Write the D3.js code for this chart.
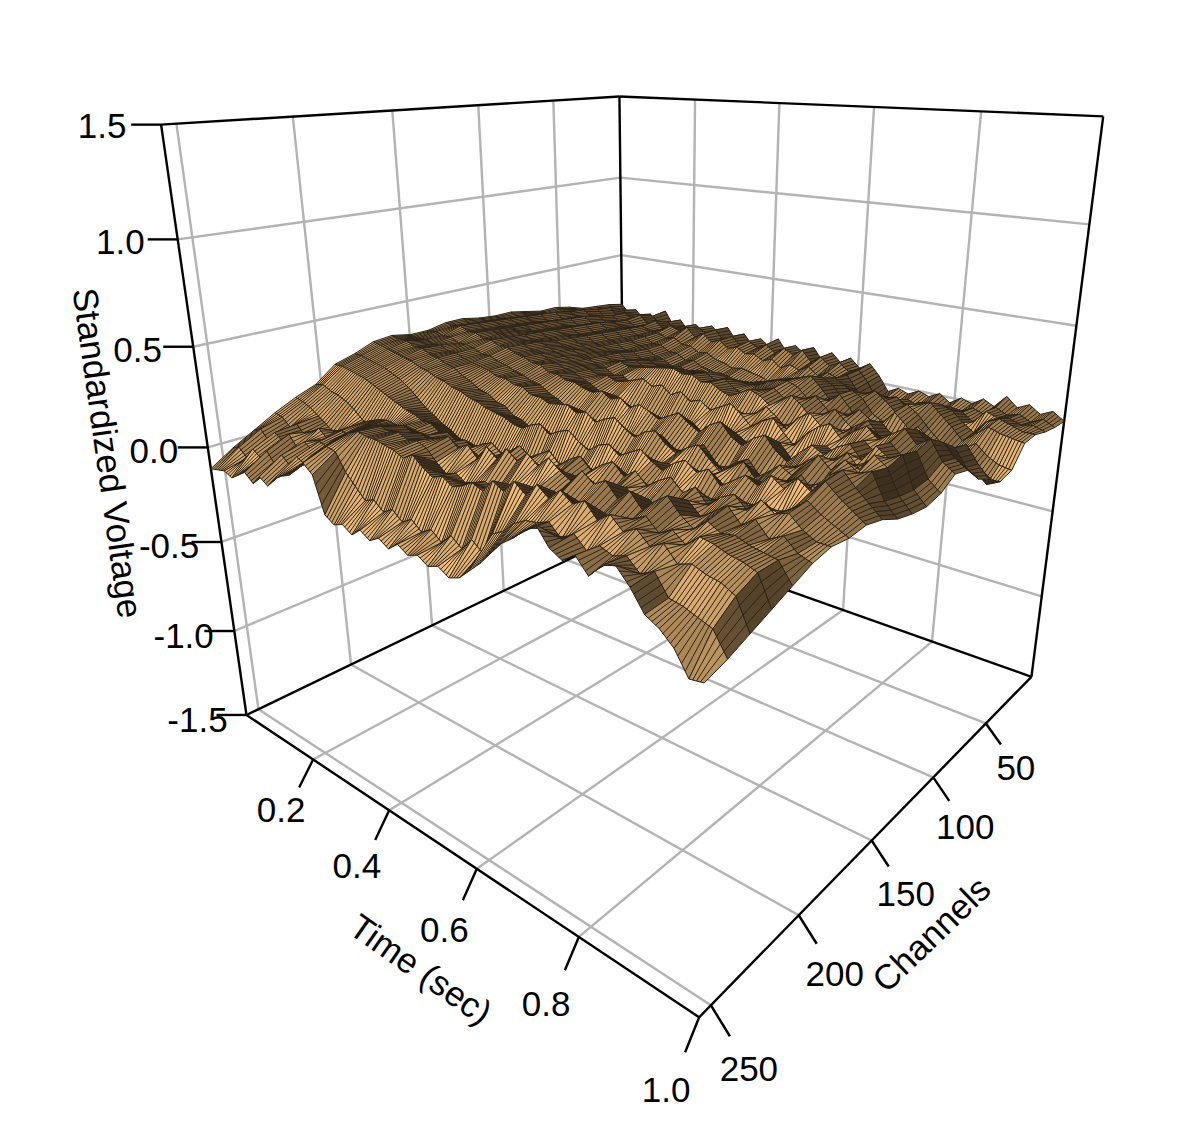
<!DOCTYPE html>
<html lang="en">
<head>
<meta charset="UTF-8">
<title>Standardized voltage surface</title>
<script src="https://cdnjs.cloudflare.com/ajax/libs/d3/7.8.5/d3.min.js"></script>
<style>
  body { margin: 0; background: #fff; }
  text { font-family: "Liberation Sans", Arial, sans-serif; font-size: 35px; fill: #000; }
</style>
</head>
<body>
<svg id="chart" width="1185" height="1147"></svg>
<script>
// tick values
const timeTicks = [0.2, 0.4, 0.6, 0.8, 1.0];
const channelTicks = [50, 100, 150, 200, 250];
const voltageTicks = [-1.5, -1.0, -0.5, 0.0, 0.5, 1.0, 1.5];

// sampled axes of the surface
const channelsMax = 256;
const timeSteps = 48;
const channelSteps = 24;

// voltage, in hundredths. one row per channel step
// (back right edge first), one value per time step
const voltage = [
[17,12,15,10,14,9,18,10,14,8,13,9,14,10,15,8,13,7,12,8,14,7,12,8,13,6,12,7,11,6,10,4,-4,-1,-3,0,-2,1,-3,1,-1,3,0,7,2,5,1,4,0],
[19,14,17,12,16,11,17,12,15,10,14,11,15,12,16,10,14,9,13,10,13,9,13,10,14,8,12,8,11,7,9,3,-6,-3,-5,-2,-4,-1,-5,-1,-2,1,-1,4,1,3,0,3,0],
[20,18,21,15,19,16,20,15,18,14,17,15,18,13,16,12,14,10,12,9,10,7,9,5,8,6,9,5,8,6,9,2,-5,-2,-1,1,-3,2,-2,3,0,2,-2,5,3,4,2,3,1],
[21,19,22,18,20,17,19,16,17,15,15,13,14,11,11,8,9,6,5,3,4,3,2,0,2,4,5,3,6,8,10,7,2,-1,1,5,7,2,-1,3,8,6,1,-3,4,7,5,3,3],
[24,22,24,21,22,19,20,18,18,15,15,12,12,9,9,6,7,4,3,1,2,0,-1,-3,-1,0,2,5,8,11,13,10,4,6,9,12,8,3,5,10,12,7,2,-4,1,6,4,3,2],
[26,24,25,23,24,21,22,19,19,16,15,13,12,9,8,5,6,3,2,0,1,3,5,4,6,8,9,11,13,15,17,12,6,10,14,11,4,1,7,13,9,3,-2,-7,-3,1,-4,-7,-8],
[26,25,27,24,25,22,23,20,20,17,16,13,13,10,10,8,9,8,7,9,11,10,12,11,10,9,10,13,15,16,14,9,5,10,15,9,1,-2,5,12,7,-1,-6,-11,-7,-3,-8,-13,-10],
[28,27,28,25,26,24,24,21,21,18,17,15,15,12,13,10,11,10,13,12,14,13,15,12,14,10,8,10,13,15,11,8,13,16,11,5,9,14,10,3,-1,6,12,8,2,5,9,1,-5],
[30,28,29,27,27,25,25,23,22,20,18,17,16,14,15,13,14,15,16,17,18,16,17,14,15,12,10,13,16,14,10,14,18,14,8,12,16,11,7,12,15,10,6,10,13,9,11,3,-1],
[30,29,30,28,28,26,26,24,23,21,20,18,17,15,14,11,12,9,10,7,5,7,4,2,5,3,1,4,7,3,9,14,10,5,12,16,11,4,10,15,19,13,9,16,20,14,17,11,7],
[31,30,31,29,29,28,27,25,25,23,21,20,18,17,16,14,15,13,14,16,18,15,17,13,16,12,14,10,13,16,12,7,11,14,8,3,10,15,18,12,17,21,16,20,24,18,22,13,9],
[33,31,32,30,30,29,28,27,26,24,23,21,20,18,17,15,13,10,8,10,7,4,6,2,4,1,3,6,2,-1,3,7,4,-2,3,8,2,-3,6,12,9,15,19,14,21,16,20,9,4],
[33,32,33,31,31,29,29,27,27,25,24,22,22,19,19,17,17,15,14,16,13,15,11,14,12,9,12,15,11,8,13,16,10,7,12,15,9,5,11,16,13,18,21,15,23,19,22,8,2],
[31,31,30,30,28,28,27,25,25,23,22,20,19,17,16,13,11,8,6,8,4,1,4,-1,3,0,5,7,3,0,5,8,2,-3,4,7,1,-4,3,9,14,10,17,22,16,24,20,9,3],
[31,30,30,29,29,27,27,25,24,23,22,20,20,18,18,15,15,13,14,15,12,14,10,13,15,11,8,12,14,9,6,10,13,8,3,7,11,5,9,14,11,17,23,18,24,20,22,11,5],
[33,32,32,30,30,28,27,25,24,21,19,16,15,12,11,7,6,3,1,-2,1,-4,-1,-5,-2,0,-3,1,4,0,3,6,2,-1,4,7,3,-1,6,10,7,13,18,12,21,25,19,14,9],
[32,31,30,29,28,27,25,24,22,21,19,18,16,15,13,12,11,9,8,11,13,9,12,14,10,7,11,13,9,12,15,11,8,13,16,12,15,9,13,17,14,20,16,22,18,24,19,15,11],
[28,28,27,26,25,23,21,18,14,10,7,4,2,-1,-2,-4,-3,-6,-4,-7,-5,-8,-3,-6,-2,-5,-1,-3,1,-2,3,6,1,-2,5,8,4,0,7,11,6,10,14,9,15,20,16,13,10],
[25,25,24,23,22,20,18,16,14,12,11,9,9,6,7,4,6,3,7,9,5,8,12,8,11,14,9,13,16,11,15,18,13,17,12,16,19,14,18,12,17,20,15,21,17,19,14,11,11],
[17,18,16,15,13,10,6,4,2,5,7,9,8,6,9,5,8,4,7,3,6,2,8,5,9,4,10,6,12,8,13,10,6,12,15,9,13,7,14,18,13,17,21,15,19,13,16,11,9],
[13,12,10,7,4,0,3,6,9,12,14,16,17,16,17,15,16,14,17,19,15,18,13,20,16,22,18,23,19,24,20,17,23,19,22,16,21,15,20,24,18,14,19,16,17,15,14,13,5],
[8,7,3,6,1,5,8,4,9,11,10,15,17,19,20,19,20,18,19,17,12,8,10,7,9,11,8,12,14,11,16,13,17,12,16,11,15,10,17,20,15,18,14,19,18,16,15,13,1],
[2,4,-1,5,2,7,1,6,3,9,8,13,16,19,21,20,20,19,18,16,19,15,12,14,11,13,16,14,20,17,23,19,25,21,26,22,25,19,23,18,21,16,19,13,15,13,12,9,-3],
[-4,-2,-6,0,-3,2,-4,3,-1,5,3,9,12,16,15,7,2,-3,-1,-5,-2,-6,-3,-7,-4,-8,-3,-7,-1,-5,5,8,13,16,17,19,14,18,13,17,15,17,12,15,7,6,4,2,-7],
[-11,-10,-9,-11,-8,-5,-9,-4,-7,-2,1,3,7,12,8,-9,-12,-10,-13,-9,-12,-9,-12,-8,-11,-9,-12,-10,-13,-11,-6,-1,5,11,15,20,24,17,14,18,12,18,20,14,6,3,-2,-11,-10]
];

const svg = d3.select("#chart");

// box scales, all on the unit cube
const tScale = d3.scaleLinear().domain([0, 1]).range([0, 1]);
const cScale = d3.scaleLinear().domain([0, channelsMax]).range([0, 1]);
const vScale = d3.scaleLinear().domain([-1.5, 1.5]).range([0, 1]);

// where the box sits on the page: [time, channel, voltage, px, py]
const boxAnchors = [
  [0, 256, -1.5, 247, 714], [1, 256, -1.5, 700, 1018], [1, 0, -1.5, 1030, 677],
  [0, 256, 1.5, 162, 125], [0, 0, 1.5, 619, 95], [0, 0, 1.5, 619, 95], [1, 0, 1.5, 1103, 118],
  [0.2, 256, -1.5, 311, 757], [0.4, 256, -1.5, 386, 808], [0.6, 256, -1.5, 476, 868], [0.8, 256, -1.5, 578, 937],
  [1, 50, -1.5, 985, 722], [1, 100, -1.5, 934, 777], [1, 150, -1.5, 873, 840], [1, 200, -1.5, 802, 915], [1, 250, -1.5, 711, 1008],
  [0, 256, 1.0, 178, 240], [0, 256, 0.5, 193, 347], [0, 256, 0, 208, 449], [0, 256, -0.5, 222, 543], [0, 256, -1.0, 235, 632],
  [0, 0, -1.5, 626, 535]
];

// least squares fit of the 3x4 camera matrix
function fitCamera(points) {
  const n = 11;
  const ata = d3.range(n).map(() => new Array(n + 1).fill(0));
  function addRow(row, rhs) {
    for (let i = 0; i < n; i++) {
      for (let j = 0; j < n; j++) ata[i][j] += row[i] * row[j];
      ata[i][n] += row[i] * rhs;
    }
  }
  points.forEach(([t, c, v, px, py]) => {
    const a = tScale(t), b = cScale(c), h = vScale(v);
    addRow([a, b, h, 1, 0, 0, 0, 0, -px * a, -px * b, -px * h], px);
    addRow([0, 0, 0, 0, a, b, h, 1, -py * a, -py * b, -py * h], py);
  });
  for (let i = 0; i < n; i++) {
    let best = i;
    for (let r = i + 1; r < n; r++) if (Math.abs(ata[r][i]) > Math.abs(ata[best][i])) best = r;
    [ata[i], ata[best]] = [ata[best], ata[i]];
    for (let r = 0; r < n; r++) {
      if (r === i) continue;
      const f = ata[r][i] / ata[i][i];
      for (let k = i; k <= n; k++) ata[r][k] -= f * ata[i][k];
    }
  }
  return ata.map((row, i) => row[n] / row[i]);
}
const cam = fitCamera(boxAnchors);

function project(t, c, v) {
  const a = tScale(t), b = cScale(c), h = vScale(v);
  const w = cam[8] * a + cam[9] * b + cam[10] * h + 1;
  return [
    (cam[0] * a + cam[1] * b + cam[2] * h + cam[3]) / w,
    (cam[4] * a + cam[5] * b + cam[6] * h + cam[7]) / w
  ];
}

function seg(g, p, q, color, width) {
  g.append("line").attr("x1", p[0]).attr("y1", p[1]).attr("x2", q[0]).attr("y2", q[1])
    .attr("stroke", color).attr("stroke-width", width);
}

const vMin = -1.5, vMax = 1.5;

// gray grid on the floor and the two back walls
const grid = svg.append("g");
const gray = "#b3b3b3";
channelTicks.forEach(c => {
  seg(grid, project(0, c, vMin), project(1, c, vMin), gray, 2.4);
  seg(grid, project(0, c, vMin), project(0, c, vMax), gray, 2.4);
});
timeTicks.filter(t => t < 1).forEach(t => {
  seg(grid, project(t, 0, vMin), project(t, channelsMax, vMin), gray, 2.4);
  seg(grid, project(t, 0, vMin), project(t, 0, vMax), gray, 2.4);
});
voltageTicks.slice(1, -1).forEach(v => {
  seg(grid, project(0, channelsMax, v), project(0, 0, v), gray, 2.4);
  seg(grid, project(0, 0, v), project(1, 0, v), gray, 2.4);
});

// black box edges
const box = svg.append("g");
[
  [[0, channelsMax, vMin], [1, channelsMax, vMin]],
  [[1, channelsMax, vMin], [1, 0, vMin]],
  [[0, channelsMax, vMin], [0, 0, vMin]],
  [[0, 0, vMin], [1, 0, vMin]],
  [[0, channelsMax, vMin], [0, channelsMax, vMax]],
  [[0, 0, vMin], [0, 0, vMax]],
  [[1, 0, vMin], [1, 0, vMax]],
  [[0, channelsMax, vMax], [0, 0, vMax]],
  [[0, 0, vMax], [1, 0, vMax]]
].forEach(([p, q]) => seg(box, project(...p), project(...q), "#000", 2.4));

// ticks and labels
const axes = svg.append("g");
const label = (x, y, s) => axes.append("text").attr("x", x).attr("y", y)
  .attr("text-anchor", "middle").attr("dominant-baseline", "central").text(s);

voltageTicks.forEach(v => {
  const p = project(0, channelsMax, v), h = vScale(v);
  seg(axes, p, [p[0] - 30, p[1]], "#000", 2.4);
  label(p[0] - 49 - 10 * h, p[1] + 5 - 4 * h, v.toFixed(1));
});

const timeTick = d3.scaleLinear().domain([0.2, 1]);
timeTicks.forEach(t => {
  const p = project(t, channelsMax, vMin);
  seg(axes, p, [p[0] - 14, p[1] + timeTick.range([28, 35])(t)], "#000", 2.4);
  label(p[0] - timeTick.range([32, 33])(t), p[1] + timeTick.range([50, 72])(t), t.toFixed(1));
});

const chanTick = d3.scaleLinear().domain([50, 250]);
channelTicks.forEach(c => {
  const p = project(1, c, vMin);
  seg(axes, p, [p[0] + chanTick.range([15, 19])(c), p[1] + chanTick.range([21, 31])(c)], "#000", 2.4);
  label(p[0] + chanTick.range([30, 38])(c), p[1] + chanTick.range([44, 63])(c), String(c));
});

const title = (x, y, deg, s) => axes.append("text")
  .attr("transform", `translate(${x},${y}) rotate(${deg})`)
  .attr("text-anchor", "middle").attr("dominant-baseline", "central").text(s);
title(108, 453, 82, "Standardized Voltage");
title(421, 969, 35, "Time (sec)");
title(931, 934, -44, "Channels");

// surface, drawn back to front
const surface = svg.append("g");
const light = [-0.3, 0.72, 0.62];
const base = [244, 192, 122];
const rows = d3.range(channelSteps);
const cols = d3.range(timeSteps);
const stripes = 4; // mesh stripes per time step

const facets = [];
rows.forEach(j => cols.forEach(i => facets.push({ i, j })));

function corner(i, j) {
  return [i / timeSteps, j / channelSteps * channelsMax, voltage[j][i] / 100];
}

function facetPath(d) {
  const p00 = corner(d.i, d.j), p10 = corner(d.i + 1, d.j);
  const p01 = corner(d.i, d.j + 1), p11 = corner(d.i + 1, d.j + 1);
  const q = [p00, p10, p11, p01].map(c => project(...c));
  let s = "M" + q.map(a => a[0].toFixed(1) + "," + a[1].toFixed(1)).join("L") + "Z";
  for (let k = 1; k < stripes; k++) {
    const f = k / stripes;
    const a = [q[0][0] + f * (q[1][0] - q[0][0]), q[0][1] + f * (q[1][1] - q[0][1])];
    const b = [q[3][0] + f * (q[2][0] - q[3][0]), q[3][1] + f * (q[2][1] - q[3][1])];
    s += "M" + a[0].toFixed(1) + "," + a[1].toFixed(1) + "L" + b[0].toFixed(1) + "," + b[1].toFixed(1);
  }
  return s;
}

function facetFill(d) {
  const h = (i, j) => vScale(voltage[j][i] / 100);
  const hu = ((h(d.i + 1, d.j) + h(d.i + 1, d.j + 1)) - (h(d.i, d.j) + h(d.i, d.j + 1))) / 2 * timeSteps;
  const hw = ((h(d.i, d.j + 1) + h(d.i + 1, d.j + 1)) - (h(d.i, d.j) + h(d.i + 1, d.j))) / 2 * channelSteps;
  const norm = Math.hypot(hu, hw, 1);
  const dot = (-hu * light[0] - hw * light[1] + light[2]) / norm;
  const f = 0.25 + 0.78 * Math.max(0, dot);
  return d3.rgb(base[0] * f, base[1] * f, base[2] * f).formatHex();
}

surface.selectAll("path")
  .data(facets)
  .join("path")
  .attr("d", facetPath)
  .attr("fill", facetFill)
  .attr("stroke", "#2b2317")
  .attr("stroke-width", 1)
  .attr("stroke-linejoin", "round");
</script>
</body>
</html>
